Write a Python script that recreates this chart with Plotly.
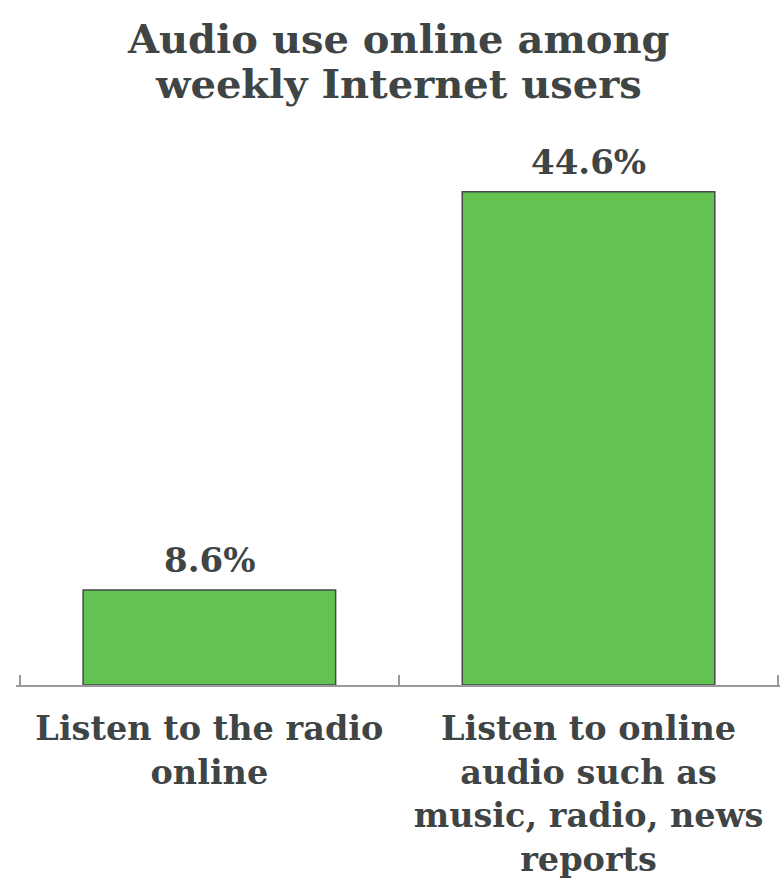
import plotly.graph_objects as go

categories = ["Listen to the radio<br>online",
              "Listen to online<br>audio such as<br>music, radio, news<br>reports"]
values = [8.6, 44.6]
value_labels = ["8.6%", "44.6%"]
title_lines = ["Audio use online among", "weekly Internet users"]

text_color = "#3f4545"
axis_grey = "#9a9a9a"
serif = "DejaVu Serif"
x_range = [-0.51, 1.505]
plot_top = 131.5
plot_bottom = 685

fig = go.Figure(go.Bar(
    x=categories,
    y=values,
    marker=dict(color="#62c353", line=dict(color="#444a4a", width=1.5)),
    width=0.666,
    hoverinfo="skip",
))

# companion linear axis that carries the tick marks between categories
fig.add_trace(go.Scatter(x=[], y=[], xaxis="x2", showlegend=False))

# value labels sitting just above each bar
for cat, val, lab in zip(categories, values, value_labels):
    fig.add_annotation(
        x=cat, y=val, text=lab, showarrow=False, yanchor="bottom", yshift=8,
        font=dict(family=serif, size=34, color=text_color, weight="bold"),
    )

# two-line title, one annotation per line for tight line spacing
for i, line in enumerate(title_lines):
    fig.add_annotation(
        text=line, xref="paper", yref="paper",
        x=0.5, y=1, yanchor="middle", showarrow=False,
        yshift=plot_top - 38 - 45 * i,
        font=dict(family=serif, size=40, color=text_color, weight="bold"),
    )

fig.update_layout(
    width=780, height=879,
    margin=dict(l=16, r=0, t=plot_top, b=879 - plot_bottom, autoexpand=False),
    plot_bgcolor="white", paper_bgcolor="white",
    showlegend=False,
    xaxis=dict(
        type="category", ticks="", showline=True, linecolor=axis_grey,
        linewidth=2, range=x_range, ticklabelstandoff=13, automargin=False,
        tickfont=dict(family=serif, size=33.5, color=text_color, weight="bold"),
        showgrid=False,
    ),
    xaxis2=dict(
        overlaying="x", anchor="y", side="bottom", range=x_range,
        tickvals=[-0.5, 0.5, 1.5], ticks="inside", ticklen=10, tickwidth=2,
        tickcolor=axis_grey, showticklabels=False, showgrid=False,
        zeroline=False, showline=False, automargin=False,
    ),
    yaxis=dict(range=[0, 50], visible=False, showgrid=False),
)

fig.write_html("out.html")
